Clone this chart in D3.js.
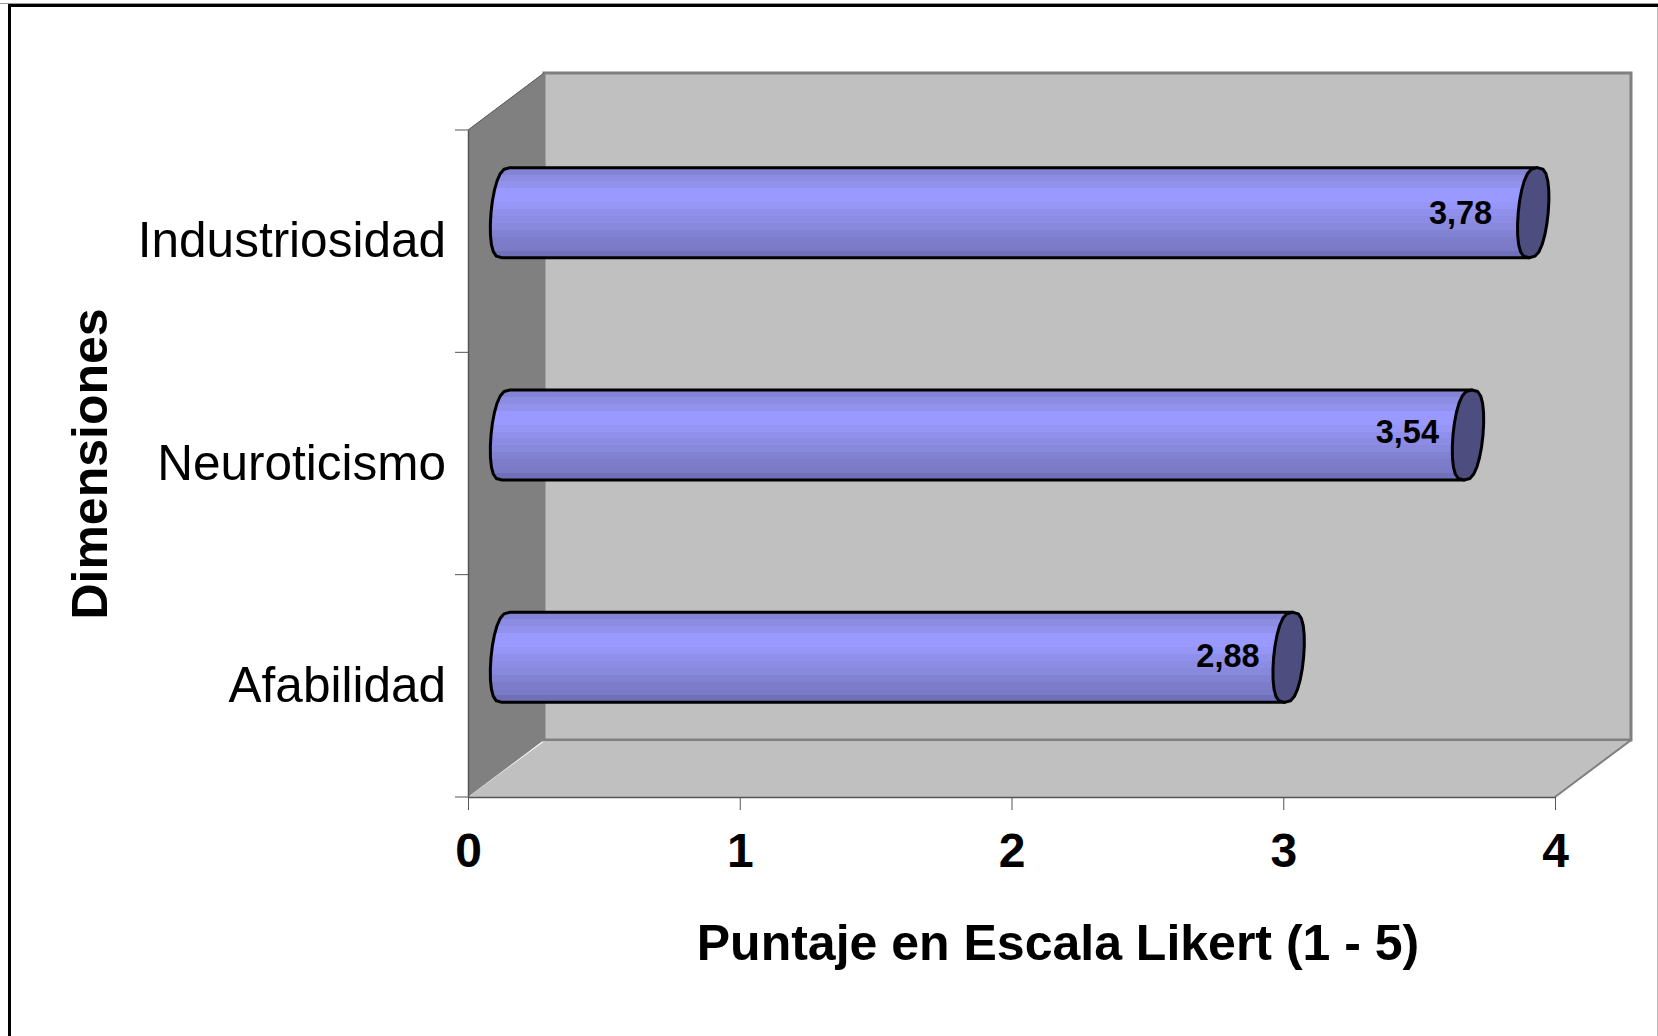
<!DOCTYPE html>
<html>
<head>
<meta charset="utf-8">
<script src="https://cdn.jsdelivr.net/npm/d3@7"></script>
<style>
  html, body { margin: 0; padding: 0; background: #fff; }
  svg { display: block; }
  text { font-family: "Liberation Sans", Arial, sans-serif; fill: #000; }
</style>
</head>
<body>
<script>
const categories = ['Industriosidad', 'Neuroticismo', 'Afabilidad'];
const values = [3.78, 3.54, 2.88];
const valueLabels = ['3,78', '3,54', '2,88'];
const xTicks = [0, 1, 2, 3, 4];

const config = {
  width: 1658,
  height: 1036,
  left: 468,
  right: 1555,
  top: 130,
  bottom: 797,
  depthX: 76,
  depthY: 57,
};

// data labels were hand placed in the original, they do not sit at a fixed distance from the cap
const labelShift = [[-41, 0], [-29, -3], [-29, -1]];

// the stripes of the cylinder shading, top to bottom
const stripes = ['#8484d6', '#8c8ce2', '#9292ec', '#9999ff', '#9999ff', '#9696f6', '#9090ec', '#8c8ce4', '#8888dc', '#8282d2', '#7c7cca', '#7a7ac6', '#7070b8'];

const svg = d3.select('body')
  .append('svg')
  .attr('width', config.width)
  .attr('height', config.height);

const grad = svg.append('defs')
  .append('linearGradient')
  .attr('id', 'cyl')
  .attr('x1', 0).attr('y1', 0).attr('x2', 0).attr('y2', 1);

stripes.forEach((c, i) => {
  grad.append('stop').attr('offset', i / stripes.length).attr('stop-color', c);
  grad.append('stop').attr('offset', (i + 1) / stripes.length).attr('stop-color', c);
});

// frame
svg.append('rect').attr('x', 0).attr('y', 3).attr('width', config.width).attr('height', 1).attr('fill', '#999');
svg.append('rect').attr('x', 8).attr('y', 4).attr('width', config.width - 8).attr('height', 3).attr('fill', '#000');
svg.append('rect').attr('x', 8).attr('y', 4).attr('width', 3).attr('height', config.height - 4).attr('fill', '#000');
svg.append('rect').attr('x', config.width - 1).attr('y', 7).attr('width', 1).attr('height', config.height - 7).attr('fill', '#bbb');

const x = d3.scaleLinear()
  .domain([0, 4])
  .range([config.left, config.right]);

const y = d3.scaleBand()
  .domain(categories)
  .range([config.top, config.bottom])
  .paddingInner(0.595)
  .paddingOuter(0.2975);

const plotL = config.left;
const plotR = config.right;
const plotT = config.top;
const plotB = config.bottom;
const dx = config.depthX;
const dy = config.depthY;
const pts = (a) => a.map(p => p.join(',')).join(' ');

// walls
svg.append('rect')
  .attr('x', plotL + dx).attr('y', plotT - dy)
  .attr('width', plotR - plotL).attr('height', plotB - plotT)
  .attr('fill', '#c0c0c0').attr('stroke', '#808080').attr('stroke-width', 3);
svg.append('polygon')
  .attr('points', pts([[plotL, plotT], [plotL + dx, plotT - dy], [plotL + dx, plotB - dy], [plotL, plotB]]))
  .attr('fill', '#808080');
svg.append('polygon')
  .attr('points', pts([[plotL, plotB], [plotL + dx, plotB - dy + 1.5], [plotR + dx, plotB - dy + 1.5], [plotR, plotB]]))
  .attr('fill', '#c0c0c0');
svg.append('line')
  .attr('x1', plotR).attr('y1', plotB).attr('x2', plotR + dx).attr('y2', plotB - dy)
  .attr('stroke', '#808080').attr('stroke-width', 2);
svg.append('line')
  .attr('x1', plotL).attr('y1', plotT).attr('x2', plotL + dx).attr('y2', plotT - dy)
  .attr('stroke', '#555').attr('stroke-width', 1);

// axes
const xAxis = svg.append('g')
  .attr('class', 'x-axis')
  .attr('transform', `translate(0, ${plotB})`)
  .call(d3.axisBottom(x).tickValues(xTicks).tickSize(13).tickSizeOuter(0).tickFormat(d3.format('d')));
xAxis.select('.domain').attr('stroke', '#555').attr('stroke-width', 1.5);
xAxis.selectAll('.tick line').attr('stroke', '#555');
xAxis.selectAll('.tick text')
  .attr('y', 70)
  .attr('dy', 0)
  .style('font-size', '48px')
  .style('font-weight', 'bold')
  .style('font-family', '"Liberation Sans", Arial, sans-serif');

const yAxis = svg.append('g')
  .attr('class', 'y-axis')
  .attr('transform', `translate(${plotL}, 0)`)
  .call(d3.axisLeft(y).tickSize(0).tickFormat(''));
yAxis.select('.domain').attr('stroke', '#555').attr('stroke-width', 1.5);

// ticks sit between the bands, at the band edges
const edges = d3.range(categories.length + 1).map(i => plotT + i * y.step());
svg.selectAll('.y-tick')
  .data(edges)
  .enter()
  .append('line')
  .attr('class', 'y-tick')
  .attr('x1', plotL - 13).attr('x2', plotL)
  .attr('y1', d => d).attr('y2', d => d)
  .attr('stroke', '#555');

svg.selectAll('.cat')
  .data(categories)
  .enter()
  .append('text')
  .attr('class', 'cat')
  .attr('x', 446)
  .attr('y', d => y(d) + y.bandwidth() / 2 + 16)
  .attr('text-anchor', 'end')
  .style('font-size', '49.5px')
  .text(d => d);

// bars
const capRx = 15;
const capSkew = 4;
const capPath = d3.line().curve(d3.curveLinearClosed);
const capPoint = (cx, cy, ry, deg) => {
  const t = deg * Math.PI / 180;
  const c = Math.cos(t);
  // a bit blunter than a true ellipse, like the original
  const bulge = Math.sign(c) * Math.pow(Math.abs(c), 0.7);
  return [cx + capRx * bulge + capSkew * Math.sin(t), cy - ry * Math.sin(t)];
};

const bar = svg.selectAll('.bar')
  .data(categories.map((c, i) => ({ c, v: values[i], label: valueLabels[i], shift: labelShift[i] })))
  .enter()
  .append('g')
  .attr('class', 'bar');

// centre of the cap, half way into the depth
const capX = (v) => x(v) + dx / 2;
const capY = (c) => y(c) + y.bandwidth() / 2 - dy / 2;
const capR = () => y.bandwidth() / 2;

bar.append('path')
  .attr('d', d => {
    const cy = capY(d.c);
    const x0 = capX(0);
    const x1 = capX(d.v);
    const p = d3.path();
    p.moveTo(x0 + capSkew, cy - capR());
    p.lineTo(x1 + capSkew, cy - capR());
    p.lineTo(x1 - capSkew, cy + capR());
    p.lineTo(x0 - capSkew, cy + capR());
    // back round the left hand side of the start cap
    d3.range(270, 90, -15).forEach(a => {
      const q = capPoint(x0, cy, capR(), a);
      p.lineTo(q[0], q[1]);
    });
    p.closePath();
    return p.toString();
  })
  .attr('fill', 'url(#cyl)')
  .attr('stroke', '#000')
  .attr('stroke-width', 3)
  .attr('stroke-linejoin', 'round');

bar.append('path')
  .attr('d', d => capPath(d3.range(0, 360, 15).map(a => capPoint(capX(d.v), capY(d.c), capR(), a))))
  .attr('fill', '#4d4d80')
  .attr('stroke', '#000')
  .attr('stroke-width', 3)
  .attr('stroke-linejoin', 'round');

bar.append('text')
  .attr('x', d => capX(d.v) + d.shift[0])
  .attr('y', d => capY(d.c) + d.shift[1] + 11)
  .attr('text-anchor', 'end')
  .style('font-size', '32.5px')
  .style('font-weight', 'bold')
  .text(d => d.label);

// titles
svg.append('text')
  .attr('x', 1058)
  .attr('y', 960)
  .attr('text-anchor', 'middle')
  .style('font-size', '50px')
  .style('font-weight', 'bold')
  .text('Puntaje en Escala Likert (1 - 5)');

svg.append('text')
  .attr('transform', 'translate(107, 464) rotate(-90)')
  .attr('text-anchor', 'middle')
  .style('font-size', '50px')
  .style('font-weight', 'bold')
  .text('Dimensiones');
</script>
</body>
</html>
